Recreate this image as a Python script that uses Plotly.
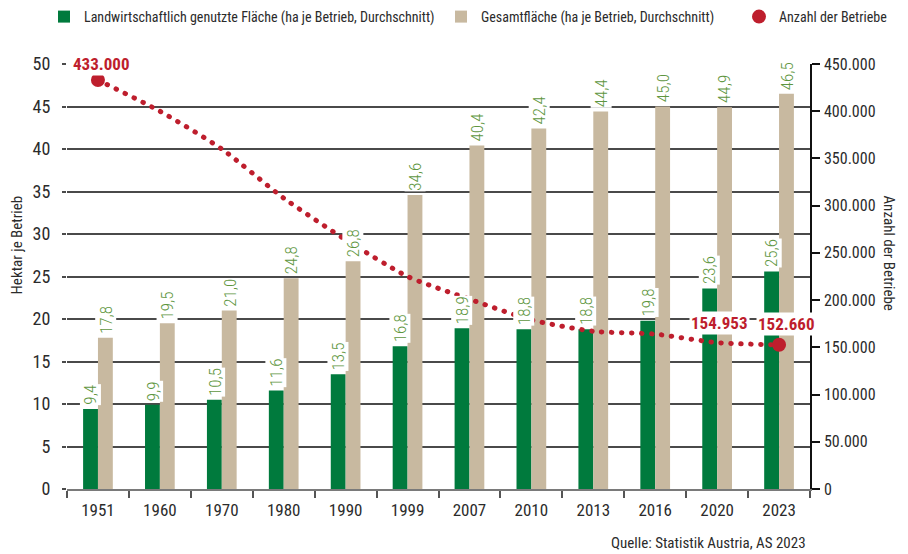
import plotly.graph_objects as go

# Erhebungsjahre
years = ["1951", "1960", "1970", "1980", "1990", "1999", "2007", "2010", "2013", "2016", "2020", "2023"]
# Landwirtschaftlich genutzte Fläche je Betrieb (ha)
lf_area = [9.4, 9.9, 10.5, 11.6, 13.5, 16.8, 18.9, 18.8, 18.8, 19.8, 23.6, 25.6]
# Gesamtfläche je Betrieb (ha)
total_area = [17.8, 19.5, 21.0, 24.8, 26.8, 34.6, 40.4, 42.4, 44.4, 45.0, 44.9, 46.5]
# Anzahl der Betriebe
farms = [433000, 400000, 360000, 308000, 264000, 225000, 201000, 179000, 167000, 164000, 154953, 152660]
# Jahre mit beschrifteter Betriebszahl
farm_labels = ["1951", "2020", "2023"]

GREEN = "#007A3D"
BEIGE = "#C8B9A0"
RED = "#BE1E2D"
LABEL_GREEN = "#5E9640"
GRID = "#4a4a4a"
TEXT = "#2b2b2b"
FONT = "Roboto Condensed, Liberation Sans, sans-serif"
W, H = 908, 554


def de_num(v, dec=1):
    return f"{v:.{dec}f}".replace(".", ",")


def de_int(v):
    return f"{v:,d}".replace(",", ".")


fig = go.Figure()

fig.add_trace(go.Bar(
    x=years, y=lf_area, name="Landwirtschaftlich genutzte Fläche (ha je Betrieb, Durchschnitt)",
    marker=dict(color=GREEN, line=dict(width=0)), legend="legend",
))
fig.add_trace(go.Bar(
    x=years, y=total_area, name="Gesamtfläche (ha je Betrieb, Durchschnitt)",
    marker=dict(color=BEIGE, line=dict(width=0)), legend="legend2",
))
fig.add_trace(go.Scatter(
    x=years, y=farms, yaxis="y2", mode="lines", showlegend=False,
    line=dict(color=RED, width=5, dash="0.5px,9.5px", shape="spline", smoothing=0.6),
    hoverinfo="skip",
))
fig.add_trace(go.Scatter(
    x=[years[0], years[-1]], y=[farms[0], farms[-1]], yaxis="y2", mode="markers",
    name="Anzahl der Betriebe", marker=dict(color=RED, size=14), legend="legend3",
))

annotations = []
# Wertebeschriftungen der Balken
for i, (a, b) in enumerate(zip(lf_area, total_area)):
    for val, off in ((a, -0.12), (b, 0.12)):
        annotations.append(dict(
            x=i + off, y=val, xref="x", yref="y", text=de_num(val),
            textangle=-90, xanchor="center", yanchor="bottom", yshift=3,
            showarrow=False, bgcolor="white", borderpad=0,
            font=dict(family=FONT, size=17, color=LABEL_GREEN, weight=300),
        ))

# Beschriftung der Betriebszahlen
shifts = {"1951": (4, 16), "2020": (2, 20), "2023": (7, 21)}
for yr in farm_labels:
    idx = years.index(yr)
    dx, dy = shifts[yr]
    annotations.append(dict(
        x=idx, y=farms[idx], xref="x", yref="y2", text=f"<b>{de_int(farms[idx])}</b>",
        xanchor="center", yanchor="middle", xshift=dx, yshift=dy,
        showarrow=False, bgcolor="white", borderpad=1,
        font=dict(family=FONT, size=17, color=RED),
    ))

# Achsentitel und Quelle
annotations.append(dict(
    x=-0.066, y=0.6965, xref="paper", yref="paper", text="Hektar je Betrieb",
    textangle=-90, xanchor="center", yanchor="top", showarrow=False,
    font=dict(family=FONT, size=15, color=TEXT),
))
annotations.append(dict(
    x=1.105, y=0.6965, xref="paper", yref="paper", text="Anzahl der Betriebe",
    textangle=90, xanchor="center", yanchor="top", showarrow=False,
    font=dict(family=FONT, size=15, color=TEXT),
))
annotations.append(dict(
    x=0.997, y=-0.127, xref="paper", yref="paper", text="Quelle: Statistik Austria, AS 2023",
    xanchor="right", yanchor="middle", showarrow=False,
    font=dict(family=FONT, size=15, color=TEXT),
))


def legend_at(px_left):
    return dict(
        orientation="h", xref="container", yref="container",
        x=px_left / W, y=1 - 17 / H, xanchor="left", yanchor="middle",
        font=dict(family=FONT, size=14, color=TEXT), bgcolor="rgba(0,0,0,0)",
        itemwidth=30,
    )


fig.update_layout(
    width=W, height=H,
    margin=dict(l=67, r=98, t=64, b=65, autoexpand=False),
    paper_bgcolor="white", plot_bgcolor="white",
    font=dict(family=FONT, size=16, color=TEXT),
    separators=",.",
    barmode="group", bargap=0.52, bargroupgap=0,
    showlegend=True,
    legend=legend_at(44),
    legend2=legend_at(441),
    legend3=legend_at(739),
    xaxis=dict(
        type="category", range=[-0.5, 11.5], showgrid=False,
        showline=True, linecolor="#7a7a7a", linewidth=2,
        ticks="outside", tickson="boundaries", ticklen=7, tickwidth=1.5, tickcolor="#555",
        ticklabelstandoff=5,
        tickfont=dict(family=FONT, size=17, color=TEXT),
    ),
    yaxis=dict(
        range=[0, 50], dtick=5, showgrid=True, gridcolor=GRID, gridwidth=1.5,
        zeroline=False, showline=False,
        ticks="outside", ticklen=4, tickwidth=1.5, tickcolor=GRID,
        ticklabelstandoff=8,
        tickfont=dict(family=FONT, size=18, color=TEXT),
    ),
    yaxis2=dict(
        overlaying="y", side="right", range=[0, 450000], dtick=50000,
        showgrid=False, zeroline=False, showline=True, linecolor="#111", linewidth=1.5,
        ticks="outside", ticklen=8, tickwidth=1.5, tickcolor="#111",
        tickformat=",d", ticklabelstandoff=1,
        tickfont=dict(family=FONT, size=16, color=TEXT),
    ),
    annotations=annotations,
)

round_caps = (
    "document.querySelectorAll('.scatterlayer .js-line').forEach(function(p){"
    "p.style.strokeLinecap='round';});"
)
fig.write_html("out.html", post_script=round_caps)
